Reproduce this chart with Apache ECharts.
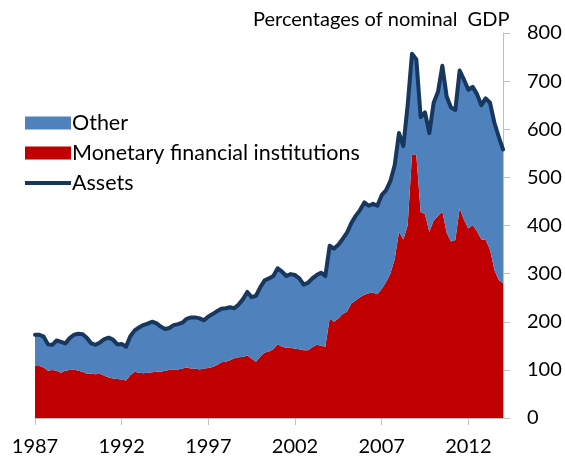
<!DOCTYPE html>
<html>
<head>
<meta charset="utf-8">
<script src="https://cdn.jsdelivr.net/npm/echarts@6/dist/echarts.min.js"></script>
<style>
html,body{margin:0;padding:0;background:#fff;}
#chart{width:565px;height:460px;}
</style>
</head>
<body>
<div id="chart"></div>
<script>
// Quarterly, 1987Q1 .. 2014Q1
var startYear = 1987;
var quarterCount = 109;
var yTicks = [0, 100, 200, 300, 400, 500, 600, 700, 800];
var titleText = 'Percentages of nominal  GDP';
var seriesNames = ['Other', 'Monetary financial institutions', 'Assets'];

// Total assets (% of GDP)
var assets = [
  173,173,169,153,152,161,158,155,166,173,175,174,166,155,152,157,164,167,163,153,
  154,148,170,182,188,193,196,200,197,190,185,187,193,195,198,206,209,209,207,203,
  211,216,222,227,228,230,228,236,247,262,251,254,272,286,290,295,311,304,295,299,
  297,290,277,281,290,297,302,295,358,352,360,372,385,405,420,432,448,441,445,441,
  463,473,492,525,592,565,650,757,745,625,635,592,655,678,732,668,645,640,722,703,
  682,688,673,650,664,655,614,585,558
];
// Monetary financial institutions (% of GDP)
var mfi = [
  108,108,105,98,100,98,94,98,100,101,98,96,92,92,91,92,88,84,82,81,
  80,78,89,96,94,93,94,95,96,96,98,100,101,101,103,105,103,103,101,103,
  104,106,110,116,117,120,124,126,127,130,123,117,128,136,138,143,153,148,146,146,
  144,143,141,141,147,152,150,148,207,200,207,216,221,238,244,251,256,259,261,257,
  268,282,300,330,387,371,400,548,546,428,424,387,410,420,429,385,367,370,436,412,
  394,401,388,371,370,350,308,287,280
];

var categories = [];
for (var i = 0; i < quarterCount; i++) {
  categories.push((startYear + Math.floor(i / 4)) + 'Q' + (i % 4 + 1));
}
var other = assets.map(function (v, i) { return v - mfi[i]; });

var FONT = 'Lato, "Open Sans", sans-serif';
var chart = echarts.init(document.getElementById('chart'), null, {renderer: 'canvas'});
chart.setOption({
  animation: false,
  backgroundColor: '#ffffff',
  title: {
    text: titleText,
    left: 248, top: 5,
    textStyle: {fontFamily: FONT, fontSize: 20, fontWeight: 'normal', color: '#000'}
  },
  legend: {
    orient: 'vertical',
    left: 20, top: 107,
    itemWidth: 46, itemHeight: 13,
    itemGap: 8,
    textStyle: {fontFamily: FONT, fontSize: 21.5, color: '#000', padding: [0, 0, 0, -4]},
    data: [
      {name: seriesNames[0], icon: 'rect'},
      {name: seriesNames[1], icon: 'rect'},
      {name: seriesNames[2], icon: 'path://M0,0H46V4H0Z'}
    ]
  },
  grid: {left: 35, right: 62, top: 33, bottom: 42, containLabel: false},
  xAxis: {
    type: 'category',
    data: categories,
    boundaryGap: false,
    axisLine: {lineStyle: {color: '#BFBFBF', width: 1}},
    axisTick: {show: true, interval: 19, length: 7, lineStyle: {color: '#BFBFBF'}},
    axisLabel: {
      interval: 19,
      margin: 19,
      fontFamily: FONT, fontSize: 20, color: '#000',
      formatter: function (v) { return v.slice(0, 4); }
    },
    splitLine: {show: false}
  },
  yAxis: {
    type: 'value',
    position: 'right',
    min: yTicks[0], max: yTicks[yTicks.length - 1], interval: 100,
    axisLine: {show: true, lineStyle: {color: '#BFBFBF', width: 1}},
    axisTick: {show: true, length: 7, lineStyle: {color: '#BFBFBF'}},
    axisLabel: {margin: 24, fontFamily: FONT, fontSize: 20, color: '#000'},
    splitLine: {show: false}
  },
  series: [
    {
      name: seriesNames[1],
      type: 'line', stack: 'total', data: mfi,
      symbol: 'none', showSymbol: false,
      lineStyle: {width: 0, color: '#C00000'},
      itemStyle: {color: '#C00000'},
      areaStyle: {color: '#C00000', opacity: 1},
      z: 2
    },
    {
      name: seriesNames[0],
      type: 'line', stack: 'total', data: other,
      symbol: 'none', showSymbol: false,
      lineStyle: {width: 0, color: '#4F81BD'},
      itemStyle: {color: '#4F81BD'},
      areaStyle: {color: '#4F81BD', opacity: 1},
      z: 2
    },
    {
      name: seriesNames[2],
      type: 'line', data: assets,
      symbol: 'none', showSymbol: false,
      lineStyle: {width: 4, color: '#17375E', join: 'round', cap: 'round'},
      itemStyle: {color: '#17375E'},
      z: 3
    }
  ]
});
</script>
</body>
</html>
